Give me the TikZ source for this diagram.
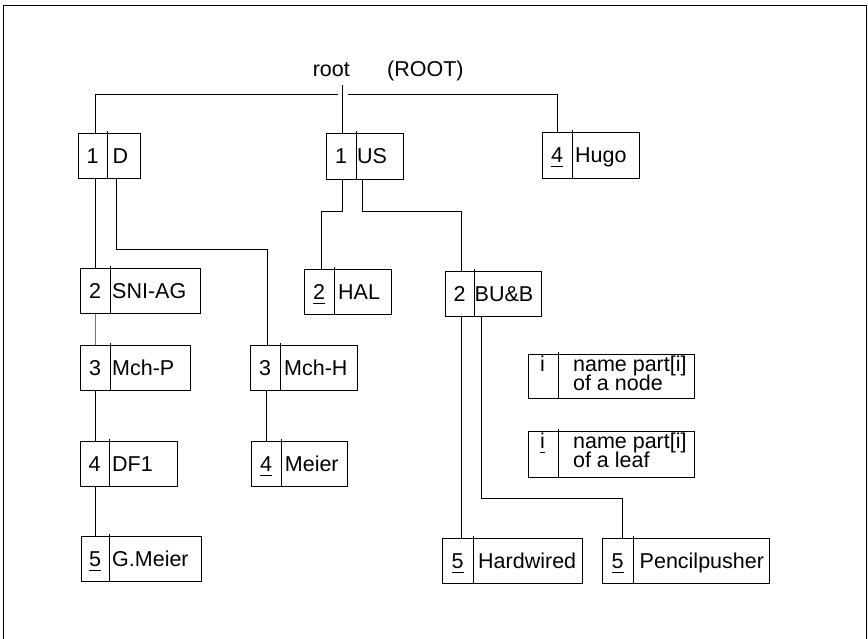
\documentclass[tikz,border=0pt]{standalone}
\usepackage{fontspec}
\setmainfont{Liberation Sans}
\newcommand\uln[1]{\setbox0=\hbox{#1}\rlap{\rule[-4.5pt]{\wd0}{1.2pt}}\box0}
\newcommand\twolines[2]{\vtop{\baselineskip=19pt\lineskiplimit=-10pt\lineskip=0pt\hbox{#1}\hbox{#2}}}
\tikzset{
  txt/.style={inner sep=0pt, font=\fontsize{21.5}{19}\selectfont},
  boxline/.style={line width=1.2pt},
  numcell/.style={draw, boxline, inner sep=0pt, text height=15.4pt, text depth=0pt, font=\fontsize{21.5}{19}\selectfont},
  namecell/.style={draw, boxline, inner sep=0pt},
  conn/.style={line width=1.2pt},
  thinconn/.style={line width=1pt, draw=black!55},
}
% name, left, divider, right, top, bottom, number, padding, text
\newcommand\tbox[9]{%
  \node[numcell, minimum width={#3-#2}, minimum height={#6-#5}, anchor=north west] (#1) at (#2,#5) {#7};
  \node[namecell, minimum width={#4-#3}, minimum height={#6-#5}, anchor=north west] (#1t) at (#3,#5) {};
  \node[txt, anchor=west, text height=15.4pt, text depth=0pt] (#1x) at ([xshift=#8pt]#1t.west) {#9};
  \draw[boxline] (#1.north east) -- ++(0,-1.5);
}
\begin{document}
\begin{tikzpicture}[x=1pt, y=-1pt]
\clip (0,0) rectangle (868,638);
% frame
\draw[line width=1.8pt] (3.5,645) -- (3.5,5.5) -- (866.5,5.5) -- (866.5,645);

% root labels
\node[txt, anchor=base west] (root) at (312.6,76.7) {root};
\node[txt, anchor=base west] (ROOT) at (387,76.7) {(ROOT)};

% boxes
\tbox{d}{77.5}{106.5}{139.5}{132.5}{177.5}{1}{6}{D}
\tbox{us}{325.5}{355.5}{402.5}{132.5}{178.5}{1}{1.5}{US}
\tbox{hugo}{541.5}{571.5}{638.5}{131.5}{177.5}{\uln{4}}{3.5}{Hugo}
\tbox{sni}{79.5}{109.5}{199.5}{267.5}{312.5}{2}{2.5}{SNI-AG}
\tbox{hal}{303.5}{333.5}{390.5}{268.5}{313.5}{\uln{2}}{4.5}{HAL}
\tbox{bub}{444.5}{473.5}{540.5}{270.5}{315.5}{2}{1}{BU\&B}
\tbox{mchp}{79.5}{109.5}{189.5}{344.5}{389.5}{3}{2.5}{Mch-P}
\tbox{mchh}{249.5}{279.5}{356.5}{344.5}{389.5}{3}{4.5}{Mch-H}
\tbox{df}{79.5}{108.5}{176.5}{440.5}{485.5}{4}{3.5}{DF1}
\tbox{meier}{250.5}{280.5}{346.5}{440.5}{485.5}{\uln{4}}{4.2}{Meier}
\tbox{gm}{80.5}{108.5}{200.5}{535.5}{580.5}{\uln{5}}{3.5}{G.Meier}
\tbox{hw}{441.5}{472.5}{581.5}{537.5}{582.5}{\uln{5}}{5.5}{Hardwired}
\tbox{pp}{601.5}{632.5}{768.5}{537.5}{582.5}{\uln{5}}{7}{Pencilpusher}

% legend
\node[namecell, minimum width=30, minimum height=44, anchor=north west] (lg1) at (527.5,353.5) {};
\node[namecell, minimum width=136, minimum height=44, anchor=north west] (lg1t) at (557.5,353.5) {};
\draw[boxline] (lg1.north east) -- ++(0,-2);
\node[txt, anchor=base] (lg1i) at (542.5,371.7) {i};
\node[txt, anchor=base west] (lg1a) at (572.9,371.7) {\twolines{name part[i]}{of a node}};

\node[namecell, minimum width=30, minimum height=46, anchor=north west] (lg2) at (527.5,430.5) {};
\node[namecell, minimum width=136, minimum height=46, anchor=north west] (lg2t) at (557.5,430.5) {};
\draw[boxline] (lg2.north east) -- ++(0,-2);
\node[txt, anchor=base] (lg2i) at (542.5,448.3) {\uln{i}};
\node[txt, anchor=base west] (lg2a) at (572.9,448.3) {\twolines{name part[i]}{of a leaf}};

% connectors
\coordinate (rootbar) at (341.5,94.5);
\draw[conn] ([xshift=1pt]us.north) -- ++(0,-47.5);
\draw[conn] ([xshift=2.5pt]d.north) |- ([xshift=-4pt]rootbar);
\draw[conn] (hugo.north) |- ([xshift=6pt]rootbar);
\draw[conn] (sni.north) -- (sni.north |- d.south);
\draw[conn] ([xshift=10pt]dt.south west) -- ++(0,71) -| ([xshift=2pt]mchh.north);
\draw[conn] ([xshift=1pt]us.south) -- ++(0,32) -| ([xshift=2pt]hal.north);
\draw[conn] ([xshift=7pt]ust.south west) -- ++(0,32) -| ([xshift=1.5pt]bub.north);
\draw[thinconn] (sni.south) -- (mchp.north);
\draw[conn] ([xshift=0.5pt]df.north) -- ([xshift=0.5pt]df.north |- mchp.south);
\draw[conn] (meier.north) -- (meier.north |- mchh.south);
\draw[conn] (gm.north) -- (gm.north |- df.south);
\draw[conn] ([xshift=3.5pt]hw.north) -- ([xshift=3.5pt]hw.north |- bub.south);
\draw[conn] ([xshift=8pt]bubt.south west) -- ++(0,182) -| ([xshift=4.5pt]pp.north);
\end{tikzpicture}
\end{document}
